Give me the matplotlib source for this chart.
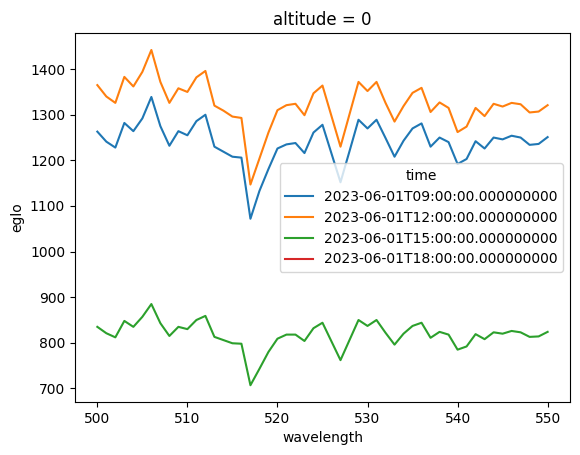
import numpy as np
import matplotlib
matplotlib.use("Agg")
import matplotlib.pyplot as plt

# wavelength grid (nm)
wavelength = np.arange(500, 551)

times = [
    "2023-06-01T09:00:00.000000000",
    "2023-06-01T12:00:00.000000000",
    "2023-06-01T15:00:00.000000000",
    "2023-06-01T18:00:00.000000000",
]

eglo_09 = [1263, 1241, 1228, 1282, 1264, 1292, 1339, 1275, 1232, 1264,
           1255, 1286, 1300, 1230, 1219, 1208, 1206, 1072, 1133, 1181,
           1226, 1235, 1238, 1216, 1261, 1278, 1215, 1152, 1220, 1289,
           1270, 1289, 1249, 1208, 1243, 1270, 1281, 1230, 1250, 1240,
           1192, 1203, 1242, 1226, 1250, 1246, 1254, 1250, 1234, 1236,
           1251]

eglo_12 = [1365, 1340, 1326, 1383, 1362, 1394, 1442, 1372, 1326, 1358,
           1350, 1382, 1396, 1320, 1309, 1296, 1293, 1147, 1204, 1261,
           1310, 1321, 1324, 1299, 1347, 1364, 1297, 1230, 1301, 1372,
           1352, 1372, 1326, 1285, 1319, 1348, 1359, 1306, 1327, 1315,
           1262, 1274, 1315, 1297, 1324, 1318, 1326, 1323, 1305, 1307,
           1321]

eglo_15 = [835, 821, 812, 848, 835, 857, 885, 843, 815, 835,
           830, 850, 859, 813, 806, 799, 798, 707, 743, 780,
           809, 818, 818, 804, 832, 844, 803, 762, 806, 850,
           837, 850, 822, 796, 820, 837, 844, 811, 824, 818,
           785, 792, 819, 808, 823, 820, 826, 823, 813, 814,
           824]

# sun below horizon at 18:00 -> no data
eglo_18 = [np.nan] * len(wavelength)

fig, ax = plt.subplots(figsize=(5.8, 4.55), dpi=100)
fig.subplots_adjust(left=0.129, right=0.983, top=0.927, bottom=0.1165)

for label, series in zip(times, [eglo_09, eglo_12, eglo_15, eglo_18]):
    ax.plot(wavelength, series, label=label)

ax.set_title("altitude = 0")
ax.set_xlabel("wavelength")
ax.set_ylabel("eglo")
ax.legend(title="time", loc="center right")

fig.savefig("out.png", dpi=100)
